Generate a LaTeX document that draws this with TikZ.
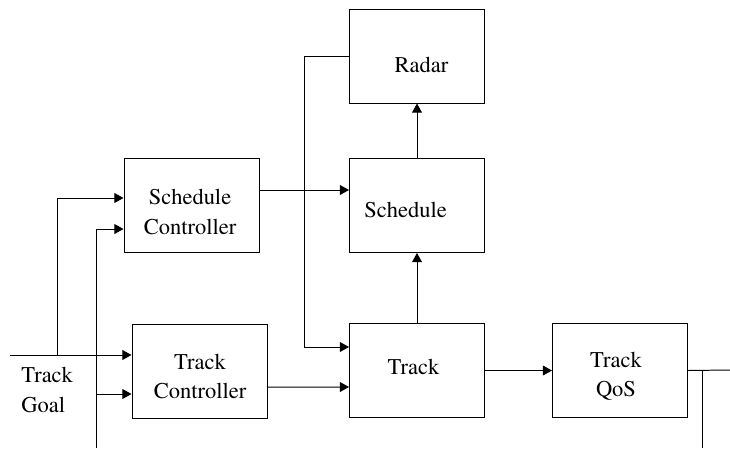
\documentclass[tikz,border=0pt]{standalone}
\usepackage[T1]{fontenc}
\usepackage{times}
\usepackage{tikz}
\usetikzlibrary{calc,arrows.meta}

\newlength{\pxu}
\setlength{\pxu}{0.025cm}
\tikzset{
  block/.style={draw, line width=0.7pt, minimum width=135\pxu, minimum height=94\pxu, inner sep=0pt},
  txt/.style={inner sep=0pt, align=center},
  arr/.style={-{Triangle[length=6.5pt,width=7pt]}, line width=0.7pt},
  wire/.style={line width=0.7pt}
}

\begin{document}
\begin{tikzpicture}[x=0.025cm, y=-0.025cm, font=\fontsize{16}{21}\selectfont]
		%%%%% START %%%%%
		\useasboundingbox (0,0) rectangle (730,449);
		
		\node[block] (radar) at (417,56) {};
		\node[block] (sched) at (417,205.5) {};
		\node[block] (schedctl) at (191.5,205.5) {};
		\node[block] (trackctl) at (199.5,371) {};
		\node[block] (track) at (417,370.5) {};
		\node[block] (qos) at (620,370.5) {};
		
		\node[txt] (radartxt) at ($(radar)+(4.5,8.5)$) {Radar};
		\node[txt] (schedtxt) at ($(sched)+(-11.5,4)$) {Schedule};
		\node[txt] (schedctltxt) at ($(schedctl)+(-1.5,6.5)$) {Schedule\\Controller};
		\node[txt] (trackctltxt) at ($(trackctl)+(0.5,5.5)$) {Track\\Controller};
		\node[txt] (tracktxt) at ($(track)+(-3.5,-4)$) {Track};
		\node[txt] (qostxt) at ($(qos)+(-4,6)$) {Track\\QoS};
		
		\node[anchor=west, align=left, inner sep=0pt] (goal) at (21,390) {Track\\Goal};
		
		\coordinate (goalin) at (10,355);
		\coordinate (split) at (57,355);
		\coordinate (ctlin) at (96,448);
		\coordinate (qosout) at (730,370);
		\coordinate (tap) at (702,370);
		\coordinate (tapend) at (702,448);
		
		% goal into both controllers
		\draw[arr] (goalin) -- ($(trackctl.west)+(0,-16)$);
		\draw[arr] (split) |- ($(schedctl.west)+(0,-7.5)$);
		\draw[arr] (ctlin) |- ($(schedctl.west)+(0,23.5)$);
		\draw[arr] ($(ctlin)+(0,-54)$) -- ($(trackctl.west)+(0,23)$);
		
		\draw[arr] ($(schedctl.east)+(0,-15.5)$) -- ($(sched.west)+(0,-15.5)$);
		\draw[arr] ($(trackctl.east)+(0,16)$) -- ($(track.west)+(0,16.5)$);
		\draw[arr] (radar.west) -- ++(-45,0) |- ($(track.west)+(0,-23.5)$);
		
		\draw[arr] (track.north) -- (sched.south);
		\draw[arr] (sched.north) -- (radar.south);
		\draw[arr] (track.east) -- (qos.west);
		
		\draw[wire] (qos.east) -- (qosout);
		\draw[wire] (tap) -- (tapend);
		%%%%% END %%%%%
\end{tikzpicture}
\end{document}
